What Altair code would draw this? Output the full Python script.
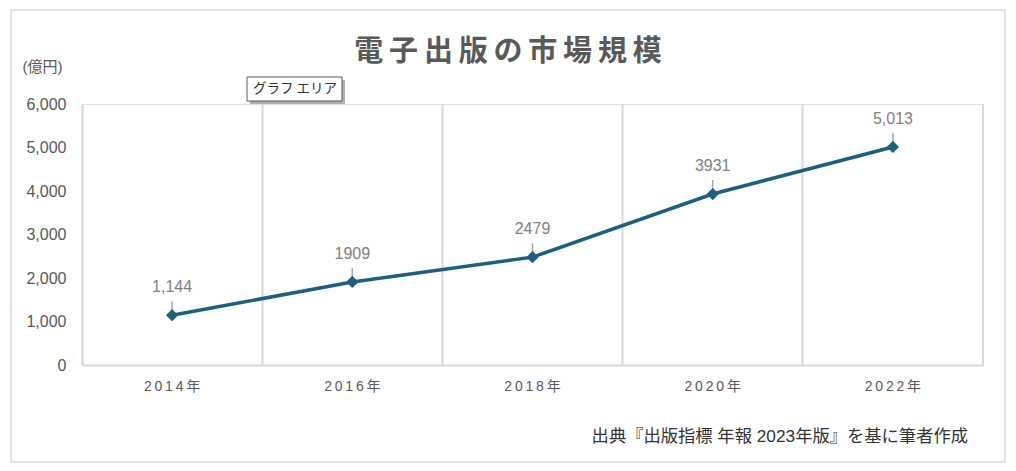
import altair as alt
import pandas as pd

years = ["2014年", "2016年", "2018年", "2020年", "2022年"]
values = [1144, 1909, 2479, 3931, 5013]
labels = ["1,144", "1909", "2479", "3931", "5,013"]

title_text = "電子出版の市場規模"
unit_text = "(億円)"
source_text = "出典『出版指標 年報 2023年版』を基に筆者作成"
tooltip_text = "グラフ エリア"

df = pd.DataFrame({"year": years, "value": values, "label": labels})

FONT = "Liberation Sans, Noto Sans CJK JP, sans-serif"
JFONT = "Noto Sans CJK JP, sans-serif"
GRID = "#d9d9d9"
TXT = "#595959"
LINE = "#1c5f7f"

W, H = 901, 261

x_enc = alt.X(
    "year:N",
    sort=years,
    scale=alt.Scale(paddingInner=0, paddingOuter=0),
    axis=alt.Axis(
        title=None,
        grid=True,
        bandPosition=0,
        gridColor=GRID,
        gridWidth=2,
        domainColor=GRID,
        domainWidth=2,
        ticks=False,
        labelPadding=14,
        labelFont=FONT,
        labelFontSize=14,
        labelColor=TXT,
        labelAngle=0,
        labelExpr="join(split(datum.label, ''), '\u2009')",
    ),
)

y_scale = alt.Scale(domain=[0, 6000], nice=False)

y_enc = alt.Y(
    "value:Q",
    scale=y_scale,
    axis=alt.Axis(
        title=unit_text,
        titleAngle=0,
        titleX=-60,
        titleY=-38,
        titleAlign="left",
        titleBaseline="middle",
        titleFont=FONT,
        titleFontSize=15,
        titleFontWeight="normal",
        titleColor=TXT,
        values=[0, 1000, 2000, 3000, 4000, 5000, 6000],
        format=",.0f",
        grid=False,
        ticks=False,
        domainColor=GRID,
        domainWidth=2,
        labelPadding=16,
        labelFont=FONT,
        labelFontSize=16,
        labelColor=TXT,
    ),
)

base = alt.Chart(df)
xs = alt.X("year:N", sort=years)
ys = alt.Y("value:Q", scale=y_scale)

line = base.mark_line(color=LINE, strokeWidth=3.5).encode(x=x_enc, y=y_enc)

right_edge = (
    base.transform_filter(alt.datum.year == years[-1])
    .mark_rule(color=GRID, strokeWidth=2)
    .encode(x=alt.X("year:N", sort=years, bandPosition=1), y=alt.value(0), y2=alt.value(H))
)

points = base.mark_point(shape="diamond", filled=True, size=150, color=LINE, opacity=1).encode(
    x=xs, y=ys
)

leaders = base.mark_rule(color="#a6a6a6", strokeWidth=1.5, yOffset=-4, y2Offset=-14).encode(
    x=xs, y=ys, y2="value:Q"
)

texts = base.mark_text(
    font=FONT, fontSize=16, color="#7f7f7f", dy=-28, baseline="middle", align="center"
).encode(x=xs, y=ys, text="label:N")

annot = pd.DataFrame({"t": [0]})

border = alt.Chart(annot).mark_rect(fill=None, stroke=GRID, strokeWidth=1.5).encode(
    x=alt.value(-71), x2=alt.value(923), y=alt.value(-94), y2=alt.value(358)
)

title = alt.Chart(annot).mark_text(
    text="\u2009".join(title_text),
    font=JFONT,
    fontSize=29,
    fontWeight="bold",
    color=TXT,
    align="center",
    baseline="middle",
).encode(x=alt.value(426), y=alt.value(-52))

source = alt.Chart(annot).mark_text(
    text=source_text,
    font=FONT,
    fontSize=17.3,
    color="#333333",
    align="right",
    baseline="middle",
).encode(x=alt.value(886), y=alt.value(333))

tip_shadow = alt.Chart(annot).mark_rect(fill="#b0b0b0", stroke=None).encode(
    x=alt.value(168), x2=alt.value(263), y=alt.value(-24), y2=alt.value(0)
)
tip_box = alt.Chart(annot).mark_rect(fill="white", stroke="#595959", strokeWidth=1).encode(
    x=alt.value(165), x2=alt.value(260), y=alt.value(-27), y2=alt.value(-3)
)
tip_text = alt.Chart(annot).mark_text(
    text=tooltip_text,
    font=JFONT,
    fontSize=13.5,
    color="#333333",
    align="left",
    baseline="middle",
).encode(x=alt.value(171), y=alt.value(-15))

chart = (
    alt.layer(
        border, line, right_edge, leaders, points, texts, title, source, tip_shadow, tip_box, tip_text
    )
    .properties(
        width=W,
        height=H,
        autosize=alt.AutoSizeParams(type="none"),
        padding={"left": 74, "top": 96, "right": 25, "bottom": 98},
    )
    .configure_view(stroke=None)
    .configure(background="white")
)

chart.save("out.html", embed_options={"renderer": "svg", "actions": False})
